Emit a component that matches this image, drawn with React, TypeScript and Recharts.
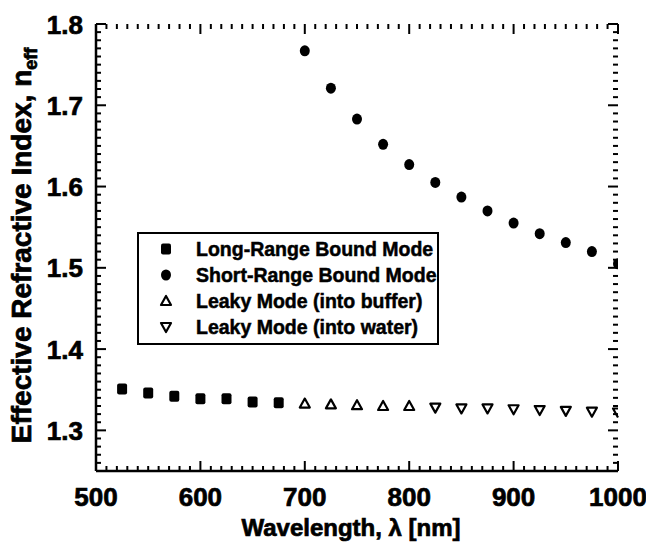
import * as React from 'react';
import { ScatterChart, Scatter, XAxis, YAxis, Legend, Label } from 'recharts';

// wavelength (nm) and effective index
const longRangeWl = [525, 550, 575, 600, 625, 650, 675];
const longRangeN = [1.351, 1.346, 1.342, 1.339, 1.339, 1.335, 1.334];
const shortRangeWl = [700, 725, 750, 775, 800, 825, 850, 875, 900, 925, 950, 975, 1000];
const shortRangeN = [1.767, 1.721, 1.683, 1.652, 1.627, 1.605, 1.587, 1.57, 1.555, 1.542, 1.531, 1.52, 1.505];
const leakyBufferWl = [700, 725, 750, 775, 800];
const leakyBufferN = [1.333, 1.332, 1.331, 1.33, 1.33];
const leakyWaterWl = [825, 850, 875, 900, 925, 950, 975, 1000];
const leakyWaterN = [1.328, 1.327, 1.327, 1.326, 1.325, 1.324, 1.323, 1.322];

const seriesNames = [
  'Long-Range Bound Mode',
  'Short-Range Bound Mode',
  'Leaky Mode (into buffer)',
  'Leaky Mode (into water)',
];

const X_DOMAIN = [500, 1000];
const Y_DOMAIN = [1.25, 1.8];
const xMajor = [500, 600, 700, 800, 900, 1000];
const yMajor = [1.3, 1.4, 1.5, 1.6, 1.7, 1.8];

const xMinor: number[] = [];
for (let v = 500; v <= 1000; v += 10) xMinor.push(v);
const yMinor: number[] = [];
for (let i = 0; i <= 55; i++) yMinor.push(Math.round((1.25 + i * 0.01) * 100) / 100);

const toRows = (xs: number[], ys: number[]) => xs.map((x, i) => ({ x, y: ys[i] }));

// tick marks sit on the frame, so they go through the same scales as the data
const bottomTicks = xMinor.map((x) => ({ x, y: Y_DOMAIN[0] }));
const topTicks = xMinor.map((x) => ({ x, y: Y_DOMAIN[1] }));
const leftTicks = yMinor.map((y) => ({ x: X_DOMAIN[0], y }));
const rightTicks = yMinor.map((y) => ({ x: X_DOMAIN[1], y }));

const FONT = '"Liberation Sans", Arial, Helvetica, sans-serif';
const frame = { stroke: '#000', strokeWidth: 2.5 };
const heavy = { fontFamily: FONT, fontWeight: 'bold' as const, fill: '#000', stroke: '#000', strokeWidth: 0.7 };

const isMajorX = (v: number) => xMajor.includes(v);
const isMajorY = (v: number) => yMajor.some((m) => Math.abs(m - v) < 1e-6);
const rowOf = (p: any) => p.payload || p.node || {};

const BottomMark = (p: any) => {
  const len = isMajorX(rowOf(p).x) ? 10 : 5;
  return <line x1={p.cx} y1={p.cy} x2={p.cx} y2={p.cy - len} stroke="#000" strokeWidth={2} />;
};
const TopMark = (p: any) => {
  const len = isMajorX(rowOf(p).x) ? 10 : 5;
  return <line x1={p.cx} y1={p.cy} x2={p.cx} y2={p.cy + len} stroke="#000" strokeWidth={2} />;
};
const LeftMark = (p: any) => {
  const len = isMajorY(rowOf(p).y) ? 10 : 5;
  return <line x1={p.cx} y1={p.cy} x2={p.cx + len} y2={p.cy} stroke="#000" strokeWidth={2} />;
};
const RightMark = (p: any) => {
  const len = isMajorY(rowOf(p).y) ? 10 : 5;
  return <line x1={p.cx} y1={p.cy} x2={p.cx - len} y2={p.cy} stroke="#000" strokeWidth={2} />;
};

const XLabelTick = (props: any) => {
  const { x, y, payload } = props;
  return (
    <text x={x} y={y + 35} textAnchor="middle" fontSize={26} {...heavy}>
      {payload.value}
    </text>
  );
};

const YLabelTick = (props: any) => {
  const { x, y, payload } = props;
  return (
    <text x={x - 13} y={y + 9.5} textAnchor="end" fontSize={26} {...heavy}>
      {Number(payload.value).toFixed(1)}
    </text>
  );
};

// points sitting on the right frame are only half visible in the original
const atEdge = (p: any) => rowOf(p).x >= X_DOMAIN[1];

const SquareMark = (p: any) => (
  <rect x={p.cx - 5} y={p.cy - 5.5} width={10} height={11} rx={2} fill="#000" />
);
const CircleMark = (p: any) =>
  atEdge(p) ? (
    <path d={`M${p.cx},${p.cy - 5.5} A5,5.5 0 0 0 ${p.cx},${p.cy + 5.5} Z`} fill="#000" />
  ) : (
    <ellipse cx={p.cx} cy={p.cy} rx={5} ry={5.5} fill="#000" />
  );
const UpMark = (p: any) => (
  <polygon
    points={`${p.cx},${p.cy - 5} ${p.cx - 5},${p.cy + 4} ${p.cx + 5},${p.cy + 4}`}
    fill="#fff"
    stroke="#000"
    strokeWidth={2.2}
    strokeLinejoin="round"
  />
);
const DownMark = (p: any) =>
  atEdge(p) ? (
    <polyline
      points={`${p.cx},${p.cy + 5} ${p.cx - 5},${p.cy - 4} ${p.cx},${p.cy - 4}`}
      fill="none"
      stroke="#000"
      strokeWidth={2.2}
      strokeLinejoin="round"
    />
  ) : (
    <polygon
      points={`${p.cx},${p.cy + 5} ${p.cx - 5},${p.cy - 4} ${p.cx + 5},${p.cy - 4}`}
      fill="#fff"
      stroke="#000"
      strokeWidth={2.2}
      strokeLinejoin="round"
    />
  );

const legendIcons: Record<string, (p: any) => React.ReactElement> = {
  'Long-Range Bound Mode': SquareMark,
  'Short-Range Bound Mode': CircleMark,
  'Leaky Mode (into buffer)': UpMark,
  'Leaky Mode (into water)': DownMark,
};

const LegendBox = () => (
  <div style={{ padding: '2px 0 3px 0' }}>
    {seriesNames.map((name) => {
      const Icon = legendIcons[name];
      return (
        <div key={name} style={{ display: 'flex', alignItems: 'center', height: 26 }}>
          <svg width={16} height={16} style={{ marginLeft: 19 }}>
            <Icon cx={8} cy={8} />
          </svg>
          <span
            style={{
              marginLeft: 22,
              fontFamily: FONT,
              fontWeight: 'bold',
              fontSize: 19.5,
              color: '#000',
              WebkitTextStroke: '0.5px #000',
              whiteSpace: 'nowrap',
            }}
          >
            {name}
          </span>
        </div>
      );
    })}
  </div>
);

const YTitle = (props: any) => {
  const { viewBox } = props;
  const cx = viewBox.x + 31;
  const cy = viewBox.y + viewBox.height / 2 - 2;
  return (
    <text x={cx} y={cy} transform={`rotate(-90 ${cx} ${cy})`} textAnchor="middle" fontSize={28} {...heavy}>
      Effective Refractive Index, n
      <tspan fontSize={18} dy={6}>eff</tspan>
    </text>
  );
};

const XTitle = (props: any) => {
  const { viewBox } = props;
  return (
    <text
      x={viewBox.x + viewBox.width / 2 - 6}
      y={viewBox.y + viewBox.height - 12}
      textAnchor="middle"
      fontSize={24}
      {...heavy}
    >
      Wavelength, λ [nm]
    </text>
  );
};

export default function App() {
  return (
    <div style={{ position: 'absolute', left: 0, top: 0, width: 646, height: 548, background: '#fff' }}>
      <ScatterChart width={646} height={548} margin={{ top: 24, right: 28, bottom: 0, left: 0 }}>
        <XAxis
          xAxisId="b"
          type="number"
          dataKey="x"
          domain={X_DOMAIN}
          ticks={xMajor}
          interval={0}
          tickSize={0}
          tickMargin={0}
          tickLine={false}
          axisLine={frame}
          tick={(p: any) => <XLabelTick {...p} />}
          height={77}
        >
          <Label content={(p: any) => <XTitle {...p} />} />
        </XAxis>
        <XAxis xAxisId="t" orientation="top" type="number" domain={X_DOMAIN} tick={false} tickLine={false} axisLine={frame} height={0} />
        <YAxis
          yAxisId="l"
          type="number"
          dataKey="y"
          domain={Y_DOMAIN}
          ticks={yMajor}
          interval={0}
          tickSize={0}
          tickMargin={0}
          tickLine={false}
          axisLine={frame}
          tick={(p: any) => <YLabelTick {...p} />}
          width={96}
        >
          <Label content={(p: any) => <YTitle {...p} />} />
        </YAxis>
        <YAxis yAxisId="r" orientation="right" type="number" domain={Y_DOMAIN} tick={false} tickLine={false} axisLine={frame} width={0} />

        <Legend
          layout="vertical"
          align="center"
          verticalAlign="middle"
          content={() => <LegendBox />}
          wrapperStyle={{
            left: 137,
            top: 232,
            width: 302,
            height: 'auto',
            border: '2px solid #000',
            background: '#fff',
            boxSizing: 'border-box',
          }}
        />

        <Scatter data={bottomTicks} xAxisId="b" yAxisId="l" shape={BottomMark} legendType="none" isAnimationActive={false} />
        <Scatter data={topTicks} xAxisId="b" yAxisId="l" shape={TopMark} legendType="none" isAnimationActive={false} />
        <Scatter data={leftTicks} xAxisId="b" yAxisId="l" shape={LeftMark} legendType="none" isAnimationActive={false} />
        <Scatter data={rightTicks} xAxisId="b" yAxisId="l" shape={RightMark} legendType="none" isAnimationActive={false} />

        <Scatter name={seriesNames[0]} data={toRows(longRangeWl, longRangeN)} xAxisId="b" yAxisId="l" shape={SquareMark} isAnimationActive={false} />
        <Scatter name={seriesNames[1]} data={toRows(shortRangeWl, shortRangeN)} xAxisId="b" yAxisId="l" shape={CircleMark} isAnimationActive={false} />
        <Scatter name={seriesNames[2]} data={toRows(leakyBufferWl, leakyBufferN)} xAxisId="b" yAxisId="l" shape={UpMark} isAnimationActive={false} />
        <Scatter name={seriesNames[3]} data={toRows(leakyWaterWl, leakyWaterN)} xAxisId="b" yAxisId="l" shape={DownMark} isAnimationActive={false} />
      </ScatterChart>
    </div>
  );
}
